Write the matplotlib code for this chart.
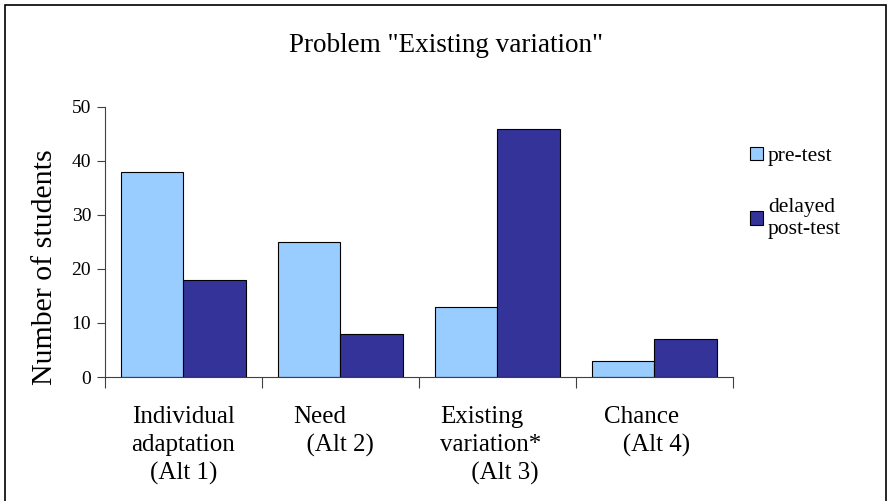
import matplotlib.pyplot as plt
import matplotlib.transforms as mtransforms
import numpy as np
from matplotlib.patches import Rectangle

# data
categories = ['Individual\nadaptation\n(Alt 1)', 'Need\n  (Alt 2)',
              'Existing\nvariation*\n     (Alt 3)', 'Chance\n   (Alt 4)']
pre_test = [38, 25, 13, 3]
post_test = [18, 8, 46, 7]
series_names = ['pre-test', 'delayed\npost-test']
y_ticks = [0, 10, 20, 30, 40, 50]

plt.rcParams['font.family'] = ['Liberation Serif', 'DejaVu Serif']

fig = plt.figure(figsize=(8.92, 5.01), dpi=100)
ax = fig.add_axes([0.1177, 0.2475, 0.704, 0.539])

x = np.arange(len(categories))
w = 0.4
ax.bar(x - w / 2, pre_test, w, color='#99CCFF', edgecolor='black', linewidth=0.8,
       label=series_names[0])
ax.bar(x + w / 2, post_test, w, color='#333399', edgecolor='black', linewidth=0.8,
       label=series_names[1])

ax.set_xlim(-0.5, len(categories) - 0.5)
ax.set_ylim(0, 50)
ax.set_yticks(y_ticks)
ax.tick_params(axis='y', labelsize=14, direction='out', length=6, color='#404040', pad=4)

# group separators as ticks, labels at group centres
ax.set_xticks(np.arange(len(categories) + 1) - 0.5)
ax.set_xticklabels([])
ax.tick_params(axis='x', direction='out', length=8, color='#404040')
ax.set_xticks(x, minor=True)
ax.set_xticklabels(categories, minor=True, fontsize=18)
ax.tick_params(axis='x', which='minor', length=0, pad=21)
shift = mtransforms.ScaledTranslation(-0.07, 0, fig.dpi_scale_trans)
for i, lab in enumerate(ax.get_xticklabels(minor=True)):
    lab.set_verticalalignment('top')
    lab.set_linespacing(1.35)
    if i == 0:
        lab.set_multialignment('center')
    else:
        lab.set_multialignment('left')
        lab.set_transform(lab.get_transform() + shift)

for s in ['top', 'right']:
    ax.spines[s].set_visible(False)
for s in ['left', 'bottom']:
    ax.spines[s].set_color('#404040')

fig.text(0.5, 1 - 45 / 501, 'Problem "Existing variation"', ha='center', va='center',
         fontsize=19.5)
fig.text(45 / 892, 1 - 267 / 501, 'Number of students', rotation=90, ha='center',
         va='center', fontsize=21.5)

leg = ax.legend(loc='upper left', bbox_to_anchor=(739 / 892, 1 - 136 / 501),
                bbox_transform=fig.transFigure, frameon=False, fontsize=15.5,
                handlelength=0.6, handleheight=0.6, handletextpad=0.25,
                labelspacing=1.5, borderpad=0)

fig.add_artist(Rectangle((5 / 892, -0.01), 881 / 892, 1 - 5 / 501 + 0.01,
                         transform=fig.transFigure, fill=False, edgecolor='black',
                         linewidth=1.2))

fig.savefig('out.png', dpi=100)
